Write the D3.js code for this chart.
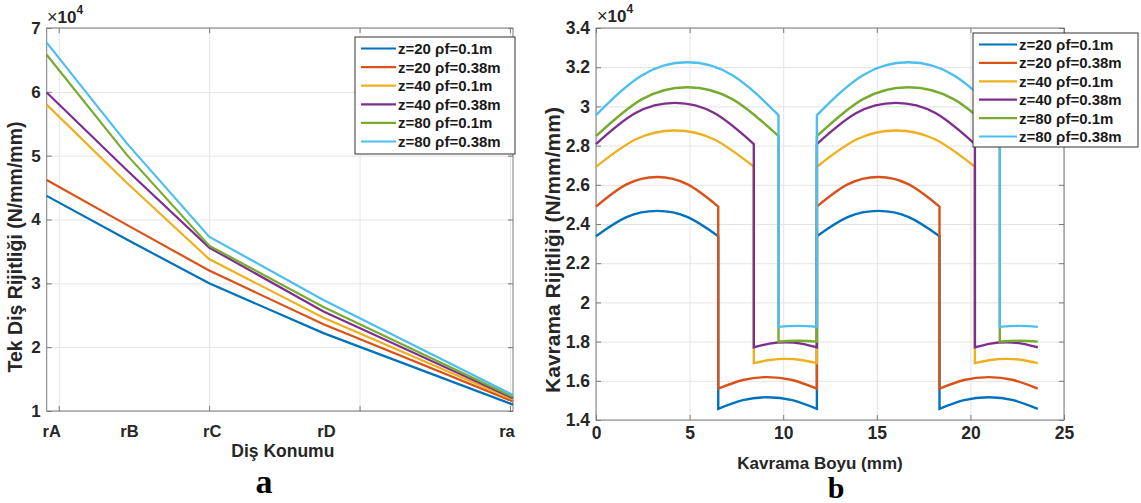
<!DOCTYPE html>
<html>
<head>
<meta charset="utf-8">
<script src="https://cdn.jsdelivr.net/npm/d3@7"></script>
<style>
  body { margin: 0; background: #fff; }
  svg { font-family: "Liberation Sans", Arial, sans-serif; font-weight: bold; }
  .grid line { stroke: #e4e4e4; stroke-width: 1; }
  .grid path { display: none; }
  .axis path { display: none; }
  .axis line { stroke: #7a7a7a; }
  .axis text { fill: #262626; font-family: "Liberation Sans", Arial, sans-serif; font-weight: bold; }
</style>
</head>
<body>
<svg id="fig" width="1141" height="503"></svg>
<script>
// legend entries (same for both panels)
var seriesLabels = ["z=20 ρf=0.1m", "z=20 ρf=0.38m", "z=40 ρf=0.1m", "z=40 ρf=0.38m", "z=80 ρf=0.1m", "z=80 ρf=0.38m"];
var colors = ["#0072BD", "#D95319", "#EDB120", "#7E2F8E", "#77AC30", "#4DBEEE"];

// ---- panel a : single tooth stiffness (x1e4 N/mm/mm) vs tooth position
var positions = ["rA", "rB", "rC", "rD", "ra"];
var posValues = [0.92, 1.45, 2.0, 2.76, 4.02];
var a_z20_01  = [4.37, 3.69, 3.00, 2.22, 1.10];
var a_z20_038 = [4.62, 3.92, 3.20, 2.36, 1.15];
var a_z40_01  = [5.80, 4.58, 3.38, 2.46, 1.18];
var a_z40_038 = [5.99, 4.78, 3.56, 2.56, 1.20];
var a_z80_01  = [6.58, 5.02, 3.59, 2.63, 1.22];
var a_z80_038 = [6.77, 5.20, 3.73, 2.74, 1.25];
var aTicksY = [1, 2, 3, 4, 5, 6, 7];
var aTicksX = [1, 2, 3, 4];

// ---- panel b : mesh stiffness (x1e4 N/mm/mm) vs mesh length (mm), arcs of [mm, value]
var b_z20_01 = [
  [[0, 2.338], [1.63, 2.435], [3.27, 2.467], [4.9, 2.435], [6.53, 2.338]],
  [[6.53, 1.457], [7.85, 1.501], [9.17, 1.516], [10.48, 1.501], [11.8, 1.457]],
  [[11.8, 2.338], [13.44, 2.435], [15.08, 2.467], [16.71, 2.435], [18.35, 2.338]],
  [[18.35, 1.457], [19.66, 1.501], [20.98, 1.516], [22.29, 1.501], [23.6, 1.457]]
];
var b_z20_038 = [
  [[0, 2.489], [1.63, 2.602], [3.27, 2.640], [4.9, 2.602], [6.53, 2.489]],
  [[6.53, 1.560], [7.85, 1.604], [9.17, 1.619], [10.48, 1.604], [11.8, 1.560]],
  [[11.8, 2.489], [13.44, 2.602], [15.08, 2.640], [16.71, 2.602], [18.35, 2.489]],
  [[18.35, 1.560], [19.66, 1.604], [20.98, 1.619], [22.29, 1.604], [23.6, 1.560]]
];
var b_z40_01 = [
  [[0, 2.692], [2.11, 2.831], [4.22, 2.877], [6.32, 2.831], [8.43, 2.692]],
  [[8.43, 1.690], [9.27, 1.706], [10.12, 1.712], [10.96, 1.706], [11.8, 1.690]],
  [[11.8, 2.692], [13.91, 2.831], [16.02, 2.877], [18.13, 2.831], [20.24, 2.692]],
  [[20.24, 1.690], [21.08, 1.706], [21.92, 1.712], [22.76, 1.706], [23.6, 1.690]]
];
var b_z40_038 = [
  [[0, 2.808], [2.11, 2.966], [4.22, 3.018], [6.32, 2.966], [8.43, 2.808]],
  [[8.43, 1.771], [9.27, 1.790], [10.12, 1.797], [10.96, 1.790], [11.8, 1.771]],
  [[11.8, 2.808], [13.91, 2.966], [16.02, 3.018], [18.13, 2.966], [20.24, 2.808]],
  [[20.24, 1.771], [21.08, 1.790], [21.92, 1.797], [22.76, 1.790], [23.6, 1.771]]
];
var b_z80_01 = [
  [[0, 2.848], [2.44, 3.036], [4.88, 3.098], [7.31, 3.036], [9.75, 2.848]],
  [[9.75, 1.800], [10.26, 1.803], [10.78, 1.804], [11.29, 1.803], [11.8, 1.800]],
  [[11.8, 2.848], [14.24, 3.036], [16.69, 3.098], [19.13, 3.036], [21.57, 2.848]],
  [[21.57, 1.800], [22.08, 1.803], [22.59, 1.804], [23.09, 1.803], [23.6, 1.800]]
];
var b_z80_038 = [
  [[0, 2.955], [2.44, 3.158], [4.88, 3.225], [7.31, 3.158], [9.75, 2.955]],
  [[9.75, 1.875], [10.26, 1.879], [10.78, 1.880], [11.29, 1.879], [11.8, 1.875]],
  [[11.8, 2.955], [14.24, 3.158], [16.69, 3.225], [19.13, 3.158], [21.57, 2.955]],
  [[21.57, 1.875], [22.08, 1.879], [22.59, 1.880], [23.09, 1.879], [23.6, 1.875]]
];
var bTicksY = [1.4, 1.6, 1.8, 2, 2.2, 2.4, 2.6, 2.8, 3, 3.2, 3.4];
var bTicksX = [0, 5, 10, 15, 20, 25];

var svg = d3.select("#fig");

// grid, box and inward ticks on all four sides
function frame(g, x, y, xt, yt, w, h, xfmt, yfmt, fsx, fsy) {
  g.append("g").attr("class", "grid")
    .attr("transform", "translate(0," + h + ")")
    .call(d3.axisBottom(x).tickValues(xt).tickSize(-h).tickFormat(""));
  g.append("g").attr("class", "grid")
    .call(d3.axisLeft(y).tickValues(yt).tickSize(-w).tickFormat(""));

  var bottom = g.append("g").attr("class", "axis")
    .attr("transform", "translate(0," + h + ")")
    .call(d3.axisBottom(x).tickValues(xt).tickSizeInner(-5).tickSizeOuter(0).tickPadding(7).tickFormat(xfmt));
  g.append("g").attr("class", "axis")
    .call(d3.axisTop(x).tickValues(xt).tickSizeInner(-5).tickSizeOuter(0).tickFormat(""));
  var left = g.append("g").attr("class", "axis")
    .call(d3.axisLeft(y).tickValues(yt).tickSizeInner(-5).tickSizeOuter(0).tickPadding(6).tickFormat(yfmt));
  g.append("g").attr("class", "axis")
    .attr("transform", "translate(" + w + ",0)")
    .call(d3.axisRight(y).tickValues(yt).tickSizeInner(-5).tickSizeOuter(0).tickFormat(""));
  bottom.selectAll("text").style("font-size", fsx + "px");
  left.selectAll("text").style("font-size", fsy + "px");

  g.append("rect")
    .attr("width", w).attr("height", h)
    .attr("fill", "none").attr("stroke", "#7a7a7a").attr("stroke-width", 1);
}

function legend(x0, y0, w, h, lineLen, rowH) {
  var lg = svg.append("g").attr("transform", "translate(" + x0 + "," + y0 + ")");
  lg.append("rect").attr("width", w).attr("height", h)
    .attr("fill", "#fff").attr("stroke", "#333").attr("stroke-width", 1);
  var row = lg.selectAll(".row").data(seriesLabels).enter().append("g")
    .attr("transform", function(d, i) { return "translate(0," + (11.5 + i * rowH) + ")"; });
  row.append("line")
    .attr("x1", 6).attr("x2", 6 + lineLen)
    .attr("stroke", function(d, i) { return colors[i]; })
    .attr("stroke-width", 2.2);
  row.append("text")
    .attr("x", 8 + lineLen).attr("dy", "0.36em")
    .style("font-size", "15px").attr("fill", "#1a1a1a")
    .text(function(d) { return d; });
}

function expLabel(x0, y0) {
  var t = svg.append("text").attr("x", x0).attr("y", y0).attr("fill", "#262626");
  t.append("tspan").style("font-weight", "normal").style("font-size", "18px").text("×");
  t.append("tspan").style("font-size", "17px").text("10");
  t.append("tspan").attr("dy", -9).style("font-size", "12px").text("4");
}

// ================= panel a =================
var aL = 46.7, aR = 513, aT = 28, aB = 411;
var aw = aR - aL, ah = aB - aT;
var ga = svg.append("g").attr("transform", "translate(" + aL + "," + aT + ")");

var xa = d3.scaleLinear().domain([0.92, 4.02]).range([0, aw]);
var ya = d3.scaleLinear().domain([1, 7]).range([ah, 0]);

frame(ga, xa, ya, aTicksX, aTicksY, aw, ah, function() { return ""; }, d3.format("d"), 17, 17);

ga.selectAll(".poslabel").data(positions).enter().append("text")
  .attr("class", "poslabel")
  .attr("x", function(d, i) { return xa(posValues[i]) + (i === 0 ? 5 : i === 4 ? -6 : 3); })
  .attr("y", ah + 26)
  .attr("text-anchor", "middle")
  .attr("fill", "#262626")
  .style("font-size", "16.5px")
  .text(function(d) { return d; });

var aSeries = [a_z20_01, a_z20_038, a_z40_01, a_z40_038, a_z80_01, a_z80_038];
var lineA = d3.line()
  .x(function(d, i) { return xa(posValues[i]); })
  .y(function(d) { return ya(d); });

ga.selectAll(".la").data(aSeries).enter().append("path")
  .attr("class", "la")
  .attr("d", lineA)
  .attr("fill", "none")
  .attr("stroke", function(d, i) { return colors[i]; })
  .attr("stroke-width", 2.2);

ga.append("text")
  .attr("x", aw / 2 + 3).attr("y", ah + 46)
  .attr("text-anchor", "middle").attr("fill", "#262626")
  .style("font-size", "17.5px")
  .text("Diş Konumu");

svg.append("text")
  .attr("transform", "translate(22,247) rotate(-90)")
  .attr("text-anchor", "middle").attr("fill", "#262626")
  .style("font-size", "19.5px")
  .text("Tek Diş Rijitliği (N/mm/mm)");

expLabel(47, 23);
legend(355, 37, 160, 117, 35, 18.6);

svg.append("text")
  .attr("x", 264).attr("y", 493)
  .attr("text-anchor", "middle")
  .style("font-family", "'Liberation Serif', serif")
  .style("font-size", "34px")
  .text("a");

// ================= panel b =================
var bL = 596, bR = 1064, bT = 28, bB = 420;
var bw = bR - bL, bh = bB - bT;
var gb = svg.append("g").attr("transform", "translate(" + bL + "," + bT + ")");

var xb = d3.scaleLinear().domain([0, 25]).range([0, bw]);
var yb = d3.scaleLinear().domain([1.4, 3.4]).range([bh, 0]);

frame(gb, xb, yb, bTicksX, bTicksY, bw, bh, d3.format("d"), function(d) { return d3.format("")(+d.toFixed(1)); }, 17.5, 17.5);

var bSeries = [b_z20_01, b_z20_038, b_z40_01, b_z40_038, b_z80_01, b_z80_038];
var arcLine = d3.line()
  .x(function(d) { return xb(d[0]); })
  .y(function(d) { return yb(d[1]); })
  .curve(d3.curveNatural);

// join the arcs of a series into one path, jumps become vertical segments
function seriesPath(arcs) {
  return arcs.map(function(a, i) {
    var s = arcLine(a);
    return i ? s.replace(/^M/, "L") : s;
  }).join("");
}

gb.selectAll(".lb").data(bSeries).enter().append("path")
  .attr("class", "lb")
  .attr("d", seriesPath)
  .attr("fill", "none")
  .attr("stroke", function(d, i) { return colors[i]; })
  .attr("stroke-width", 2.4);

gb.append("text")
  .attr("x", bw / 2 - 10).attr("y", bh + 49)
  .attr("text-anchor", "middle").attr("fill", "#262626")
  .style("font-size", "17px")
  .text("Kavrama Boyu (mm)");

svg.append("text")
  .attr("transform", "translate(560,250) rotate(-90)")
  .attr("text-anchor", "middle").attr("fill", "#262626")
  .style("font-size", "21px")
  .text("Kavrama Rijitliği (N/mm/mm)");

expLabel(597, 22);
legend(973, 33, 165, 114, 38, 18.4);

svg.append("text")
  .attr("x", 836).attr("y", 498)
  .attr("text-anchor", "middle")
  .style("font-family", "'Liberation Serif', serif")
  .style("font-size", "30px")
  .text("b");
</script>
</body>
</html>
